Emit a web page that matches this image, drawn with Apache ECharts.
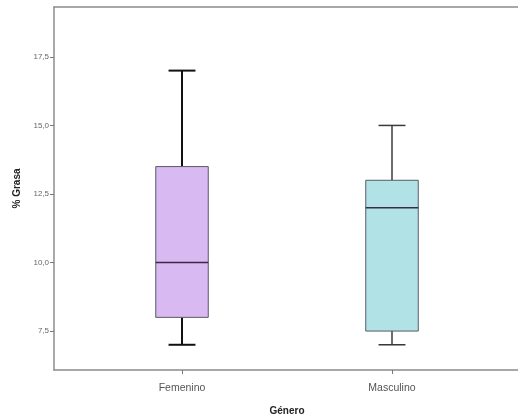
<!DOCTYPE html>
<html><head><meta charset="utf-8">
<script src="https://cdn.jsdelivr.net/npm/echarts@6/dist/echarts.min.js"></script>
<style>html,body{margin:0;padding:0;background:#fff}#c{width:518px;height:417px}</style>
</head><body><div id="c"></div>
<script>
const categories = ['Femenino', 'Masculino'];
// [min, Q1, median, Q3, max]
const boxValues = [
  [7, 8, 10, 13.5, 17],
  [7, 7.5, 12, 13, 15]
];
const yTicks = [7.5, 10, 12.5, 15, 17.5];
const fillColors = ['#d9b9f1', '#b1e3e6'];
const whiskerColors = ['#111111', '#3a3a3a'];
const whiskerWidths = [2, 1.5];

const chart = echarts.init(document.getElementById('c'));
const yMin = 6.08, yMax = 19.32;
const frameLine = {show: true, lineStyle: {color: '#8c8c8c', width: 1.5}};

function renderItem(params, api) {
  const i = api.value(0);
  const vMin = api.value(1), q1 = api.value(2), med = api.value(3), q3 = api.value(4), vMax = api.value(5);
  const pMin = api.coord([i, vMin]);
  const pQ1 = api.coord([i, q1]);
  const pMed = api.coord([i, med]);
  const pQ3 = api.coord([i, q3]);
  const pMax = api.coord([i, vMax]);
  const cx = pMin[0];
  const bw = api.size([1, 0])[0];
  const half = bw * 0.125;
  const cap = bw * 0.064;
  const wc = whiskerColors[i], ww = whiskerWidths[i];
  return {
    type: 'group',
    children: [
      {type: 'line', shape: {x1: cx, y1: pMax[1], x2: cx, y2: pQ3[1]}, style: {stroke: wc, lineWidth: ww}},
      {type: 'line', shape: {x1: cx, y1: pQ1[1], x2: cx, y2: pMin[1]}, style: {stroke: wc, lineWidth: ww}},
      {type: 'line', shape: {x1: cx - cap, y1: pMax[1], x2: cx + cap, y2: pMax[1]}, style: {stroke: wc, lineWidth: ww}},
      {type: 'line', shape: {x1: cx - cap, y1: pMin[1], x2: cx + cap, y2: pMin[1]}, style: {stroke: wc, lineWidth: ww}},
      {type: 'rect', shape: {x: cx - half, y: pQ3[1], width: half * 2, height: pQ1[1] - pQ3[1]},
        style: {fill: fillColors[i], stroke: '#5a5a66', lineWidth: 1}},
      {type: 'line', shape: {x1: cx - half, y1: pMed[1], x2: cx + half, y2: pMed[1]}, style: {stroke: '#3a2a48', lineWidth: 1.5}}
    ]
  };
}

chart.setOption({
  animation: false,
  backgroundColor: '#ffffff',
  grid: [
    {left: 77, right: 21, top: 7, bottom: 47, show: false, containLabel: false, outerBoundsMode: 'none'},
    {left: 54, right: 0, top: 7, bottom: 47, show: false, containLabel: false, outerBoundsMode: 'none'}
  ],
  xAxis: [
    {
      gridIndex: 0, type: 'category', data: categories,
      name: 'Género', nameLocation: 'middle', nameGap: 36,
      nameTextStyle: {fontFamily: 'Liberation Sans', fontSize: 10, fontWeight: 'bold', color: '#222'},
      axisLine: {show: false},
      axisTick: {show: true, alignWithLabel: true, length: 4, lineStyle: {color: '#777'}},
      axisLabel: {fontFamily: 'Liberation Sans', fontSize: 10.5, color: '#555', margin: 13},
      splitLine: {show: false}
    },
    {gridIndex: 1, type: 'value', min: 0, max: 1, position: 'bottom',
      axisLine: frameLine, axisTick: {show: false}, axisLabel: {show: false}, splitLine: {show: false}},
    {gridIndex: 1, type: 'value', min: 0, max: 1, position: 'top',
      axisLine: frameLine, axisTick: {show: false}, axisLabel: {show: false}, splitLine: {show: false}}
  ],
  yAxis: [
    {gridIndex: 0, type: 'value', min: yMin, max: yMax, show: false},
    {
      gridIndex: 1, type: 'value', min: yMin, max: yMax,
      name: '% Grasa', nameLocation: 'middle', nameGap: 30, nameRotate: 90,
      nameTextStyle: {fontFamily: 'Liberation Sans', fontSize: 10, fontWeight: 'bold', color: '#222'},
      axisLine: frameLine,
      axisTick: {show: true, length: 4, lineStyle: {color: '#777'}, customValues: yTicks},
      axisLabel: {fontFamily: 'Liberation Sans', fontSize: 8, color: '#666', margin: 5,
        customValues: yTicks, formatter: v => v.toFixed(1).replace('.', ',')},
      splitLine: {show: false}
    }
  ],
  series: [{
    type: 'custom',
    xAxisIndex: 0, yAxisIndex: 0,
    renderItem: renderItem,
    encode: {x: 0, y: [1, 2, 3, 4, 5]},
    data: boxValues.map((b, i) => [i].concat(b))
  }]
});
</script></body></html>
